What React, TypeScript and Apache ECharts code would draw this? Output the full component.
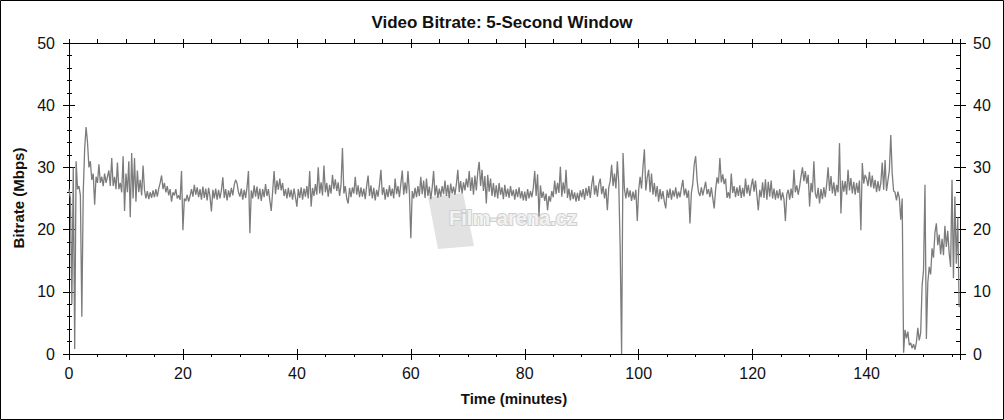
import React, { useEffect, useRef } from "react";
import * as echarts from "echarts";

const TITLE = "Video Bitrate: 5-Second Window";
const X_NAME = "Time (minutes)";
const Y_NAME = "Bitrate (Mbps)";
const WATERMARK = "Film-arena.cz";
const X_MIN = 0;
const X_MAX = 156.4;
const Y_MIN = 0;
const Y_MAX = 50;
const STEP = 0.25; // minutes between samples

// bitrate (Mbps), one value every 0.25 minutes, per 10-minute block
const rate000 = [26.5, 25, 8, 30, 0.8, 31, 26.5, 27, 25.5, 6, 26, 33, 36.5, 34, 30, 31, 28, 29, 24, 28.5, 27.5, 30.5, 27.5, 28.5, 27, 29, 27.5, 28.5, 29.5, 27, 31.5, 27, 28.5, 26.5, 30.8, 26.5, 27.5, 26, 31.8, 23];
const rate010 = [29, 26, 31, 22, 32.3, 25, 31.5, 24.5, 29.5, 26, 28, 25.5, 30.3, 26.4, 25, 26.2, 24.9, 26, 25.1, 26.3, 25.2, 26.5, 25.3, 26.6, 27.5, 28.7, 26.5, 27.5, 26, 27, 25.5, 26.5, 24.5, 26, 25.5, 26.5, 25, 25.5, 24.8, 29.4];
const rate020 = [19.9, 25, 24.6, 25.6, 24.5, 25.4, 26.5, 25.3, 27.2, 25.6, 26.8, 25.2, 26.5, 24.8, 26.9, 25.1, 26.6, 24.7, 26.7, 25.3, 22.9, 26.4, 25, 26.6, 24.8, 26.4, 25, 26.3, 28.4, 25.1, 26.5, 24.7, 26.3, 25.2, 26.7, 25.5, 27.2, 28, 27.4, 26];
const rate030 = [25.3, 26.6, 24.8, 26.4, 25.1, 26.8, 29.4, 19.4, 26.3, 25, 27.1, 25.3, 26.9, 24.9, 26.6, 24.6, 26.5, 25.2, 27.3, 25.4, 26.5, 24.7, 23, 26.2, 29.4, 25.7, 27.9, 26.4, 28.2, 26.3, 27.5, 25.4, 26.5, 25, 26.7, 25.2, 26.4, 24.8, 26.6, 25.2];
const rate040 = [23.7, 26.5, 25.1, 26.8, 24.8, 26.6, 25.3, 27, 25, 29.4, 23.7, 26.7, 25.4, 27.3, 25.6, 30, 25.8, 27.6, 25.5, 30.3, 26, 27.5, 25.3, 27.2, 25.8, 28.8, 26.5, 28.1, 26.2, 27.6, 25.4, 27.2, 33.1, 25.8, 27, 25, 24.2, 26.7, 25.2, 26.8];
const rate050 = [25.8, 28.5, 25.6, 27.1, 25.2, 26.8, 25.3, 26.6, 24.9, 27, 28.7, 25.4, 27.1, 25, 26.7, 24.7, 26.4, 25.3, 27.2, 29.6, 25.6, 26.8, 24.8, 26.5, 25.2, 27.1, 25.4, 26.6, 25, 28.2, 25.7, 27, 25.2, 27.4, 29.5, 25.6, 27.6, 25.8, 29.4, 26];
const rate060 = [18.6, 26.2, 25, 26.7, 25.2, 27, 25.4, 28.5, 25.7, 27.9, 25.1, 28.2, 25.4, 26.9, 24.9, 26.7, 29.4, 25.5, 27.1, 25.1, 26.6, 25.3, 27, 25.7, 27.9, 25.4, 27.2, 25.1, 27.4, 25.8, 26.9, 25.6, 27.3, 29.6, 26, 27.8, 25.8, 27.6, 26.3, 28.2];
const rate070 = [26.8, 29.4, 26.2, 28.4, 25.6, 28.7, 26.3, 29.2, 30.9, 27, 29.6, 26.2, 28.6, 24.2, 28.8, 26.1, 28.2, 25.4, 27.5, 25.2, 27.1, 25, 27.5, 25.6, 26.8, 24.9, 27.2, 25.3, 26.6, 25.1, 27, 25.4, 26.4, 24.8, 26.5, 25.2, 26.8, 25, 26.2, 24.7];
const rate080 = [26.1, 24.6, 26.5, 25, 26.2, 25.2, 26.7, 29.4, 25.4, 28.9, 22.1, 27.1, 25.1, 26.1, 24.6, 25.8, 23.1, 25.4, 24.5, 26.2, 25.2, 27.9, 25.7, 27.5, 25.9, 30.1, 25.3, 27.6, 25.8, 29.6, 25.1, 26.6, 24.7, 26.4, 24.9, 26, 24.5, 25.9, 24.6, 26.3];
const rate090 = [25.2, 26.5, 24.8, 26.7, 25.4, 27, 25.1, 27.2, 28.7, 25.6, 27.1, 25.3, 27.3, 28.2, 25.7, 27, 25, 26.6, 23.1, 26.8, 27.8, 30.4, 27, 29, 26.6, 31, 27.5, 17, 0, 32.3, 26.5, 25, 26.7, 25.2, 26.3, 24.6, 26.1, 24.8, 26.4, 21.4];
const rate100 = [26.4, 28.5, 26.6, 30, 32.9, 26.3, 28.4, 29.6, 26, 29, 25.6, 27.5, 25.3, 27, 24.5, 26.5, 24.9, 26.2, 24.5, 23.4, 26.4, 25.1, 26.6, 24.8, 26.3, 25.3, 26.8, 25, 26.1, 25.2, 26.7, 28, 25.5, 26.6, 25.1, 26.3, 21, 25.9, 27.4, 30.5];
const rate110 = [31.8, 28, 26, 25.4, 26.8, 25.5, 26.6, 27.7, 25.7, 26.5, 25.2, 26.8, 25.1, 23.4, 26.4, 28.4, 27.4, 31.5, 27.6, 28.9, 27.3, 28.2, 25.1, 26, 25, 29, 25.9, 27, 25.2, 26.8, 25.4, 27.1, 25.1, 26.7, 25.3, 28.2, 25.8, 27.2, 25.4, 27];
const rate120 = [28.2, 26.1, 27.9, 25.5, 23.1, 26.4, 25.2, 27.6, 25.1, 28.1, 24.8, 27.7, 25.3, 27.9, 25, 26.6, 24.8, 26.3, 25, 26.5, 24.7, 26, 24.9, 21.4, 25.7, 26.4, 24.8, 26.6, 25.1, 29.6, 26, 27.1, 25.6, 26.9, 28.6, 30, 27.8, 29.4, 27.4, 28.8];
const rate130 = [23.7, 27.5, 26, 31, 25.8, 25, 26.7, 24.2, 26.5, 24.9, 26.8, 25.2, 27.3, 30, 26.2, 28.6, 25.8, 27.6, 25.4, 27.2, 26, 33.9, 22.6, 27.9, 26.1, 27.8, 25.6, 29.6, 26.3, 28.3, 25.8, 27.7, 25.6, 27.5, 25.9, 27.9, 19.9, 30.7, 27.4, 28.8];
const rate140 = [28.2, 27, 29.3, 26.8, 28.7, 26.6, 28, 26, 27.8, 26.2, 27.5, 30.8, 26.4, 31.2, 26.2, 27.9, 29.5, 35.2, 29, 26.2, 26, 24.7, 26.1, 25.1, 21.6, 25, 0.2, 3.9, 2.5, 3.6, 1.4, 1.8, 0.9, 1.6, 0.7, 1.9, 4.2, 2.2, 3.4, 11];
const rate150 = [13.5, 27.2, 2.4, 11.5, 14, 12.8, 17, 15.5, 19.5, 21, 17.5, 19.2, 16, 18.5, 15.9, 20.6, 17.2, 19.8, 16.2, 14, 28, 12.2, 25.3, 14.5, 22, 7.5];

const blocks: [number, number[]][] = [
  [0, rate000], [10, rate010], [20, rate020], [30, rate030],
  [40, rate040], [50, rate050], [60, rate060], [70, rate070],
  [80, rate080], [90, rate090], [100, rate100], [110, rate110],
  [120, rate120], [130, rate130], [140, rate140], [150, rate150],
];

const FONT = "'Liberation Sans', Arial, Helvetica, sans-serif";
const BLACK = "#000";

function buildData(): [number, number][] {
  const out: [number, number][] = [];
  blocks.forEach(([start, vals]) => {
    vals.forEach((v, i) => out.push([start + i * STEP, v]));
  });
  return out;
}

function xAxis(position: string, interval: number, opts: any) {
  return {
    type: "value",
    position,
    min: X_MIN,
    max: X_MAX,
    interval,
    splitLine: { show: false },
    axisLine: { show: !!opts.line, onZero: false, lineStyle: { color: BLACK, width: 1 } },
    axisTick: { show: true, inside: opts.inside, length: opts.len, lineStyle: { color: BLACK, width: 1 } },
    axisLabel: opts.label
      ? {
          show: true,
          margin: 11,
          fontSize: 16,
          color: "#111",
          fontFamily: FONT,
          formatter: (v: number) => (v % 20 === 0 ? String(v) : ""),
        }
      : { show: false },
  };
}

function yAxis(position: string, interval: number, opts: any) {
  return {
    type: "value",
    position,
    min: Y_MIN,
    max: Y_MAX,
    interval,
    splitLine: { show: false },
    axisLine: { show: !!opts.line, onZero: false, lineStyle: { color: BLACK, width: 1 } },
    axisTick: { show: true, inside: opts.inside, length: opts.len, lineStyle: { color: BLACK, width: 1 } },
    axisLabel: opts.label
      ? { show: true, margin: opts.margin, fontSize: 16, color: "#111", fontFamily: FONT }
      : { show: false },
  };
}

export default function App() {
  const ref = useRef<HTMLDivElement>(null);
  useEffect(() => {
    document.body.style.margin = "0";
    const chart = echarts.init(ref.current!, undefined, { renderer: "svg", width: 1004, height: 420 });
    const option: any = {
      animation: false,
      backgroundColor: "#fff",
      title: {
        text: TITLE,
        left: "center",
        top: 9,
        textStyle: { fontSize: 17, fontWeight: "bold", color: "#111", fontFamily: FONT },
      },
      grid: { left: 69, right: 44, top: 43, bottom: 66, containLabel: false },
      xAxis: [
        xAxis("bottom", 20, { line: true, label: true, inside: false, len: 6 }),
        xAxis("bottom", 20, { inside: true, len: 5 }),
        xAxis("bottom", 5, { inside: false, len: 3 }),
        xAxis("top", 20, { line: true, inside: true, len: 5 }),
        xAxis("top", 5, { inside: false, len: 4 }),
      ],
      yAxis: [
        yAxis("left", 10, { line: true, label: true, margin: 14, inside: false, len: 6 }),
        yAxis("left", 10, { inside: true, len: 6 }),
        yAxis("left", 2, { inside: true, len: 3 }),
        yAxis("left", 2, { inside: false, len: 2 }),
        yAxis("right", 10, { line: true, label: true, margin: 13, inside: false, len: 6 }),
        yAxis("right", 10, { inside: true, len: 6 }),
        yAxis("right", 2, { inside: true, len: 4 }),
      ],
      graphic: [
        {
          type: "rect",
          z: 0,
          shape: { x: 0.5, y: 0.5, width: 1003, height: 419 },
          style: { fill: "none", stroke: BLACK, lineWidth: 1 },
        },
        {
          type: "polygon",
          z: 0,
          shape: { points: [[428, 197], [463, 193], [474, 246], [438, 249]] },
          style: { fill: "#e2e2e2" },
        },
        {
          type: "text",
          z: 0,
          x: 513,
          y: 218,
          style: {
            text: WATERMARK,
            fontSize: 20,
            fontWeight: "bold",
            fontFamily: FONT,
            fill: "#f2f2f2",
            stroke: "#cfcfcf",
            lineWidth: 2,
            align: "center",
            verticalAlign: "middle",
          },
        },
        {
          type: "text",
          x: 514,
          y: 398,
          style: {
            text: X_NAME,
            fontSize: 15,
            fontWeight: "bold",
            fontFamily: FONT,
            fill: "#111",
            align: "center",
            verticalAlign: "middle",
          },
        },
        {
          type: "text",
          x: 18,
          y: 198,
          rotation: Math.PI / 2,
          style: {
            text: Y_NAME,
            fontSize: 15,
            fontWeight: "bold",
            fontFamily: FONT,
            fill: "#111",
            align: "center",
            verticalAlign: "middle",
          },
        },
      ],
      series: [
        {
          type: "line",
          xAxisIndex: 0,
          yAxisIndex: 0,
          data: buildData(),
          symbol: "none",
          showSymbol: false,
          silent: true,
          z: 3,
          lineStyle: { color: "#7c7c7c", width: 1.3 },
        },
      ],
    };
    chart.setOption(option);
    return () => chart.dispose();
  }, []);
  return <div ref={ref} style={{ width: 1004, height: 420 }} />;
}
